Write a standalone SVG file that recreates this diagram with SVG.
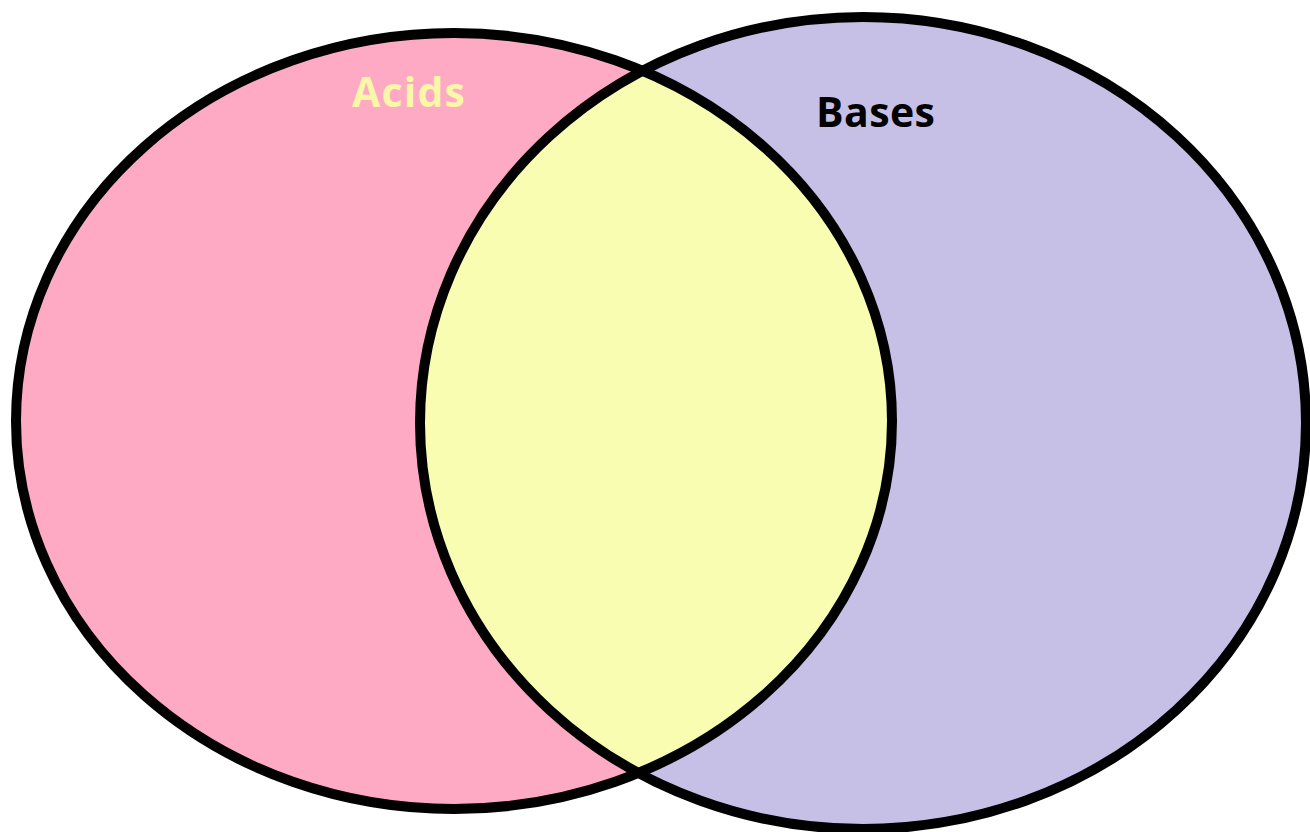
<svg xmlns="http://www.w3.org/2000/svg" width="1310" height="832" viewBox="0 0 1310 832">
<style>
.outline{fill:none;stroke:#000;stroke-width:10}
.lbl{font-family:"Open Sans","DejaVu Sans",sans-serif;font-weight:bold;font-size:41px}
</style>
<defs>
<clipPath id="clipL"><ellipse cx="454" cy="421" rx="438" ry="388"/></clipPath>
</defs>
<rect width="1310" height="832" fill="#fff"/>
<g id="acids">
<ellipse cx="454" cy="421" rx="438" ry="388" fill="#FFAAC5"/>
</g>
<g id="bases">
<ellipse cx="863" cy="423" rx="443" ry="406" fill="#C6BFE6"/>
</g>
<g id="overlap">
<ellipse cx="863" cy="423" rx="443" ry="406" fill="#F8FDB2" clip-path="url(#clipL)"/>
</g>
<g id="outlines">
<ellipse class="outline" cx="454" cy="421" rx="438" ry="388"/>
<ellipse class="outline" cx="863" cy="423" rx="443" ry="406"/>
</g>
<text class="lbl" x="352" y="107" fill="#FAF7A8" textLength="113">Acids</text>
<text class="lbl" x="816" y="127" fill="#000" textLength="119">Bases</text>
</svg>
